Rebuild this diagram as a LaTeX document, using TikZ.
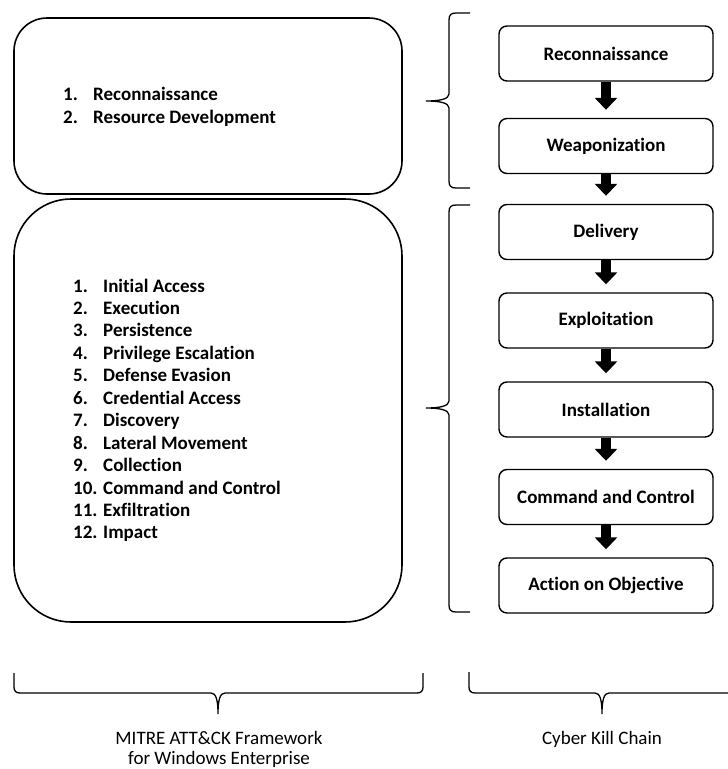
\documentclass[tikz,border=0pt]{standalone}
\usepackage{fontspec}
\setmainfont{Carlito}[Ligatures=NoCommon]
\usetikzlibrary{arrows.meta}
\begin{document}
\begin{tikzpicture}[x=1pt,y=-1pt,
  chainbox/.style={draw,line width=1.4pt,rounded corners=8pt,minimum width=214pt,minimum height=55pt,inner sep=0pt,font=\fontsize{19}{22}\selectfont\bfseries},
  bigbox/.style={draw,line width=1.6pt,inner sep=0pt},
  flow/.style={line width=10pt,-{Triangle[width=22pt,length=12pt]},shorten >=8pt},
  brc/.style={line width=1.3pt},
  listitem/.style={anchor=base west,inner sep=0pt,font=\fontsize{19}{22}\selectfont\bfseries},
  caplabel/.style={anchor=base,inner sep=0pt,font=\fontsize{19}{22}\selectfont}]
\useasboundingbox (0,0) rectangle (728,769);

% left boxes
\node[bigbox,rounded corners=33pt,minimum width=388pt,minimum height=176pt] (pre) at (208,106) {};
\node[bigbox,rounded corners=57pt,minimum width=388pt,minimum height=423pt] (ent) at (208,410.5) {};

% list in top box
\foreach \t [count=\i] in {Reconnaissance,Resource Development} {
  \node[listitem] (pn\i) at (63,{100+23*(\i-1)}) {\i.};
  \node[listitem] (pt\i) at (93,{100+23*(\i-1)}) {\t};
}
% list in big box
\foreach \t [count=\i] in {Initial Access,Execution,Persistence,Privilege Escalation,Defense Evasion,Credential Access,Discovery,Lateral Movement,Collection,Command and Control,Exfiltration,Impact} {
  \node[listitem] (en\i) at (73,{292+22.45*(\i-1)}) {\i.};
  \node[listitem] (et\i) at (103,{292+22.45*(\i-1)}) {\t};
}

% kill chain
\node[chainbox] (k1) at (606,53.5) {Reconnaissance};
\node[chainbox] (k2) at (606,146) {Weaponization};
\node[chainbox] (k3) at (606,232) {Delivery};
\node[chainbox] (k4) at (606,320.5) {Exploitation};
\node[chainbox] (k5) at (606,409.5) {Installation};
\node[chainbox] (k6) at (606,497) {Command and Control};
\node[chainbox] (k7) at (606,585.5) {Action on Objective};

\draw[flow] (k1.south) -- (k2.north);
\draw[flow] (k2.south) -- (k3.north);
\draw[flow] (k3.south) -- (k4.north);
\draw[flow] (k4.south) -- (k5.north);
\draw[flow] (k5.south) -- (k6.north);
\draw[flow] (k6.south) -- (k7.north);

% side braces
\draw[brc] (470,13) -- (456,13) .. controls (451,13) and (449,15) .. (449,20) -- (449,94)
  .. controls (449,99) and (440,101) .. (426,101) .. controls (440,101) and (449,103) .. (449,108)
  -- (449,181) .. controls (449,186) and (451,188) .. (456,188) -- (470,188);
\draw[brc] (470,205) -- (456,205) .. controls (451,205) and (449,207) .. (449,212) -- (449,401)
  .. controls (449,406) and (440,408) .. (426,408) .. controls (440,408) and (449,410) .. (449,415)
  -- (449,605) .. controls (449,610) and (451,612) .. (456,612) -- (470,612);

% bottom braces
\draw[brc] (14,673) -- (14,687) .. controls (14,691) and (16,693) .. (20,693) -- (211,693)
  .. controls (216,693) and (218,700) .. (218,714) .. controls (218,700) and (220,693) .. (225,693)
  -- (417,693) .. controls (421,693) and (423,691) .. (423,687) -- (423,673);
\draw[brc] (469,672) -- (469,687) .. controls (469,691) and (471,693) .. (475,693) -- (595,693)
  .. controls (600,693) and (602,700) .. (602,714) .. controls (602,700) and (604,693) .. (609,693)
  -- (728,693);

% captions
\node[caplabel] (c1) at (219,744) {MITRE ATT\&CK Framework};
\node[caplabel] (c2) at (219,764) {for Windows Enterprise};
\node[caplabel] (c3) at (602,744) {Cyber Kill Chain};
\end{tikzpicture}
\end{document}
